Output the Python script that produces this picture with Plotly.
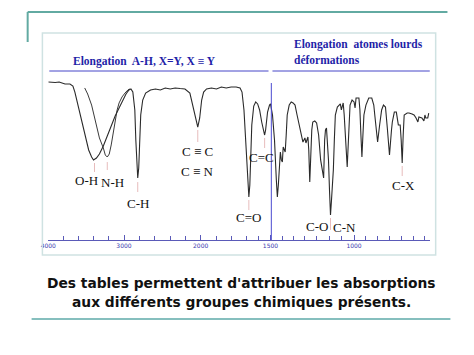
import numpy as np
import plotly.graph_objects as go

W, H = 474, 355

# ---- data: main IR spectrum (wavenumber cm-1, transmittance %) ----
wn_main = [4000, 3909, 3857, 3818, 3779, 3714, 3675, 3649, 3623, 3584, 3545, 3506, 3467, 3428,
           3403, 3364, 3325, 3273, 3221, 3169, 3117, 3065, 3013, 2974, 2936, 2910, 2885, 2859,
           2846, 2833, 2821, 2808, 2795, 2782, 2756, 2718, 2654, 2590, 2526, 2462, 2397, 2333,
           2269, 2205, 2141, 2103, 2064, 2038, 2013, 1993, 1979, 1958, 1923, 1887, 1852, 1817,
           1782, 1746, 1718, 1704, 1690, 1676, 1662, 1655, 1648, 1641, 1634, 1620, 1606, 1592,
           1578, 1563, 1549, 1542, 1535, 1521, 1507, 1500, 1488, 1476, 1465, 1459, 1453, 1447,
           1441, 1435, 1429, 1424, 1412, 1406, 1400, 1388, 1376, 1365, 1353, 1341, 1323, 1306,
           1294, 1288, 1276, 1271, 1265, 1259, 1253, 1247, 1235, 1224, 1212, 1200, 1188, 1182,
           1176, 1171, 1165, 1159, 1153, 1147, 1141, 1135, 1129, 1124, 1118, 1112, 1100, 1082,
           1076, 1071, 1065, 1059, 1053, 1041, 1035, 1029, 1024, 1012, 1000, 994, 988, 971,
           965, 959, 953, 947, 941, 929, 912, 894, 882, 876, 865, 859, 847, 835, 824, 812, 800,
           794, 788, 776, 771, 759, 747, 735, 724, 718, 712, 706, 700, 682, 671, 653, 641, 629,
           618, 612, 600, 594, 582, 576, 571, 559, 553]
t_main = [98.6, 98.2, 98.6, 97.9, 97.1, 97.1, 95.7, 91.4, 85.7, 76.4, 67.9, 58.6, 50.0, 45.0,
          42.9, 44.3, 47.1, 52.9, 60.0, 67.9, 74.3, 80.0, 86.4, 90.0, 92.9, 93.6, 91.4, 78.6,
          57.1, 39.3, 30.0, 37.1, 57.1, 75.0, 85.7, 90.7, 92.9, 93.6, 92.9, 94.3, 93.6, 94.3,
          93.9, 93.6, 90.7, 82.1, 71.4, 66.4, 72.9, 85.7, 91.4, 93.6, 94.3, 93.6, 95.0, 94.3,
          95.0, 95.0, 94.3, 91.4, 78.6, 50.0, 25.0, 16.4, 25.0, 50.0, 67.9, 81.4, 84.3, 82.9,
          78.6, 70.0, 62.9, 60.7, 64.3, 77.1, 82.1, 82.9, 75.0, 57.1, 28.6, 16.4, 25.0, 42.9,
          48.6, 42.9, 41.4, 52.1, 48.6, 60.7, 75.0, 82.1, 84.3, 83.6, 82.1, 75.0, 65.7, 55.7,
          58.6, 55.0, 59.3, 50.0, 27.1, 50.0, 64.3, 70.0, 70.7, 69.3, 60.7, 42.9, 32.1, 30.0,
          57.1, 64.3, 65.7, 57.1, 42.9, 21.4, 3.6, 14.3, 25.0, 35.7, 57.1, 75.0, 80.7, 82.9,
          78.6, 81.4, 83.6, 75.0, 60.7, 37.9, 53.6, 67.9, 82.1, 85.7, 84.3, 80.0, 87.1, 87.1,
          78.6, 60.7, 45.0, 60.7, 75.0, 82.1, 87.1, 87.1, 82.1, 75.0, 62.9, 55.7, 67.9, 78.6,
          82.1, 80.7, 64.3, 53.6, 46.4, 64.3, 70.0, 77.1, 77.1, 67.9, 67.9, 57.1, 40.7, 60.7,
          75.0, 76.4, 76.4, 75.7, 75.0, 72.9, 70.0, 73.6, 72.9, 72.9, 70.7, 75.0, 72.9, 72.9,
          76.4]

# ---- data: overlaid N-H band ----
wn_nh = [3519, 3480, 3428, 3390, 3364, 3325, 3273, 3247, 3221, 3195, 3169, 3143, 3117, 3091,
         3065, 3026, 2987, 2949, 2923]
t_nh = [94.3, 90.0, 82.1, 73.6, 67.9, 58.6, 51.4, 46.4, 45.0, 47.1, 53.6, 62.9, 71.4, 78.6,
        83.6, 87.9, 90.7, 92.9, 93.6]

# ---- band labels: text, wavenumber, label T; marker ticks: wavenumber, top T, bottom T ----
band_labels = ["O-H", "N-H", "C-H", "C ≡ C", "C ≡ N", "C=C", "C=O", "C-O", "C-N", "C-X"]
band_wn = [3500, 3150, 2821, 2038, 2038, 1563, 1655, 1220, 1059, 706]
band_t = [27.9, 27.1, 12.1, 48.6, 35.0, 45.0, 2.1, -4.3, -5.7, 24.3]
mark_wn = [3390, 3221, 2821, 2038, 1542, 1655, 1141, 712]
mark_top = [40.7, 41.4, 27.1, 64.3, 58.6, 14.3, 1.4, 38.6]
mark_bot = [34.3, 35.7, 20.0, 55.7, 51.4, 7.1, -7.1, 31.4]

# ---- axis ticks ----
tick_wn = [4000, 3000, 2000, 1500, 1000]
tick_text = ["4000", "3000", "2000", "1500", "1000"]
minor_wn = [3800, 3600, 3400, 3200, 2800, 2600, 2400, 2200, 1887, 1782, 1669, 1585,
            1429, 1365, 1294, 1224, 1147, 1076, 929, 859, 788, 718, 647, 576, 547]

# ---- axis scale: piecewise-linear wavenumber scale (as on the printed axis) ----
SCALE_WN = [4000, 3000, 2000, 1500, 1000, 547]
SCALE_U = [0, 77, 155, 226, 311, 388]


def u(wn):
    return np.interp(-np.asarray(wn, dtype=float), -np.array(SCALE_WN, float), SCALE_U)


def px(x):
    return x / W


def py(y):
    return 1 - y / H


fig = go.Figure()

# label marker ticks
mx, my = [], []
for w_, a, b in zip(mark_wn, mark_top, mark_bot):
    mx += [float(u(w_)), float(u(w_)), None]
    my += [a, b, None]
fig.add_trace(go.Scatter(x=mx, y=my, mode="lines", line=dict(color="#e7bcbc", width=1),
                         hoverinfo="skip", showlegend=False))

fig.add_trace(go.Scatter(x=u(wn_nh), y=t_nh, mode="lines",
                         line=dict(color="#3a3a3a", width=1), showlegend=False))
fig.add_trace(go.Scatter(x=u(wn_main), y=t_main, mode="lines",
                         line=dict(color="#2a2a2a", width=1.1), showlegend=False))

for txt, w_, t_ in zip(band_labels, band_wn, band_t):
    fig.add_annotation(x=float(u(w_)), y=t_, xref="x", yref="y", text=txt, showarrow=False,
                       yanchor="middle",
                       font=dict(family="Liberation Serif", size=13, color="#111111"))

# vertical separator near 1500 cm-1
fig.add_shape(type="line", xref="x", yref="paper", x0=float(u(1495)), x1=float(u(1495)),
              y0=py(240), y1=py(83), line=dict(color="#4a4ad0", width=1))

shapes = [
    # slide decoration
    dict(type="line", x0=px(20), x1=px(447), y0=py(12), y1=py(12), line=dict(color="#62aaa2", width=2)),
    dict(type="line", x0=px(20), x1=px(20), y0=py(12), y1=py(42), line=dict(color="#62aaa2", width=2)),
    dict(type="line", x0=px(24), x1=px(450), y0=py(319), y1=py(319), line=dict(color="#5eaaa8", width=1.5)),
    # image frame
    dict(type="rect", x0=px(35), x1=px(435), y0=py(255), y1=py(33),
         line=dict(color="#cfe2e2", width=1.5)),
    # header underlines
    dict(type="line", x0=px(42), x1=px(265), y0=py(71), y1=py(71), line=dict(color="#4646c8", width=1)),
    dict(type="line", x0=px(269), x1=px(429), y0=py(71), y1=py(71), line=dict(color="#4646c8", width=1)),
]
for s in shapes:
    s.update(xref="paper", yref="paper")
    fig.add_shape(**s)

hdr = dict(family="Liberation Serif", size=11.5, color="#1f1fa8")
for txt, x_, y_ in [("<b>Elongation  A-H, X=Y, X ≡ Y</b>", 64, 62),
                    ("<b>Elongation  atomes lourds</b>", 289, 44),
                    ("<b>déformations</b>", 289, 60)]:
    fig.add_annotation(x=px(x_), y=py(y_), xref="paper", yref="paper", xanchor="left",
                       yanchor="middle", text=txt, showarrow=False, font=hdr)

body = dict(family="DejaVu Sans", size=13.8, color="#111111")
for txt, y_ in [("<b>Des tables permettent d'attribuer les absorptions</b>", 283),
                ("<b>aux différents groupes chimiques présents.</b>", 302)]:
    fig.add_annotation(x=px(237), y=py(y_), xref="paper", yref="paper", xanchor="center",
                       yanchor="middle", text=txt, showarrow=False, font=body)

fig.update_layout(
    width=W, height=H, margin=dict(l=0, r=0, t=0, b=0),
    paper_bgcolor="white", plot_bgcolor="white", showlegend=False,
    xaxis=dict(domain=[px(41), px(429)], range=[0, 388], showgrid=False, zeroline=False,
               showline=True, linecolor="#5a5ab8", linewidth=1,
               tickmode="array", tickvals=list(u(tick_wn)), ticktext=tick_text,
               ticks="inside", ticklen=5, tickcolor="#5a5ab8", tickwidth=1,
               tickfont=dict(family="DejaVu Sans", size=6, color="#3a3ab0"),
               minor=dict(tickmode="array", tickvals=list(u(minor_wn)), ticks="inside",
                          ticklen=4, tickcolor="#5a5ab8", showgrid=False),
               fixedrange=True),
    yaxis=dict(domain=[py(240), py(80)], range=[-14.29, 100], visible=False, fixedrange=True),
)

fig.write_html("out.html")
